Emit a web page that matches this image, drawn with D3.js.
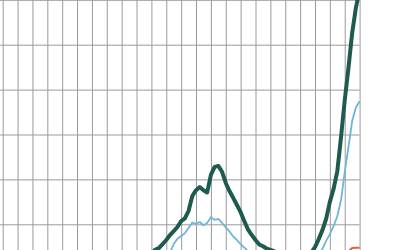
<!DOCTYPE html>
<html>
<head>
<meta charset="utf-8">
<script src="https://cdn.jsdelivr.net/npm/d3@7"></script>
<style>
  html, body { margin: 0; padding: 0; background: #fff; }
  svg { display: block; }
</style>
</head>
<body>
<svg id="chart" width="400" height="250"></svg>
<script>
// Period index (categories) visible in the cropped chart
const weeks = [40,41,42,43,44,45,46,47,48,49,50,51,52,53,54,55,56,57,58,59,60,61,62,63,64,65,66,67,68,69,70,71,72,73,74,75,76,77,78,79,80,81,82,83,84,85,86,87,88,89,90,91,92,93,94,95,96];

// Dark green series
const seriesGreen = [36,43,47,56,65,76,85,94,107,113,130,163,176,183,176,171,210,228,230,217,192,174,159,143,127,107,88,76,65,55,51,46,43,40,36,30,27,25,24,23,24,27,32,37,49,67,87,112,150,179,218,294,376,448,526,582,622];

// Light blue series
const seriesBlue = [14,16,18,21,25,37,56,68,74,80,92,104,101,105,98,103,116,110,112,103,93,84,73,65,56,48,40,35,31,28,26,24,22,21,20,19,19,18,18,18,19,19,20,21,25,32,45,63,78,96,118,154,216,272,330,360,374];

// Red series
const seriesRed = [6,6,7,7,8,8,9,9,10,10,10,11,11,11,11,11,12,12,12,12,11,11,11,10,10,10,9,9,9,8,8,8,8,8,8,8,8,8,8,8,8,8,9,9,9,10,10,11,12,13,14,18,26,40,47,48,48];

// Grid tick values
const xTicks = [0,4,8,12,16,20,24,28,32,36,40,44,48,52,56,60,64,68,72,76,80,84,88,92,96];
const yTicks = [0,100,200,300,400,500,600];

const svg = d3.select("#chart");

const x = d3.scaleLinear().domain([0, 96]).range([2.7, 359.6]);
const y = d3.scaleLinear().domain([0, 600]).range([269.2, -0.2]);

const gridColor = "#9a9a9a";

// vertical gridlines
const gx = svg.append("g")
  .attr("transform", "translate(0,269.2)")
  .call(d3.axisBottom(x).tickValues(xTicks).tickSize(-269.4).tickFormat(""));
gx.select(".domain").remove();
gx.selectAll(".tick line").attr("stroke", gridColor).attr("stroke-width", 1);

// horizontal gridlines
const gy = svg.append("g")
  .attr("transform", "translate(0,0)")
  .call(d3.axisLeft(y).tickValues(yTicks).tickSize(-359.6).tickFormat(""));
gy.select(".domain").remove();
gy.selectAll(".tick line").attr("stroke", gridColor).attr("stroke-width", 1);

const line = d3.line()
  .x((d, i) => x(weeks[i]))
  .y(d => y(d));

svg.append("path")
  .datum(seriesRed)
  .attr("fill", "none")
  .attr("stroke", "#e0643c")
  .attr("stroke-width", 2)
  .attr("stroke-linejoin", "round")
  .attr("d", line);

svg.append("path")
  .datum(seriesBlue)
  .attr("fill", "none")
  .attr("stroke", "#6db5d9")
  .attr("stroke-width", 1.8)
  .attr("stroke-linejoin", "round")
  .attr("d", line);

svg.append("path")
  .datum(seriesGreen)
  .attr("fill", "none")
  .attr("stroke", "#1f5a4e")
  .attr("stroke-width", 4)
  .attr("stroke-linejoin", "round")
  .attr("d", line);
</script>
</body>
</html>
